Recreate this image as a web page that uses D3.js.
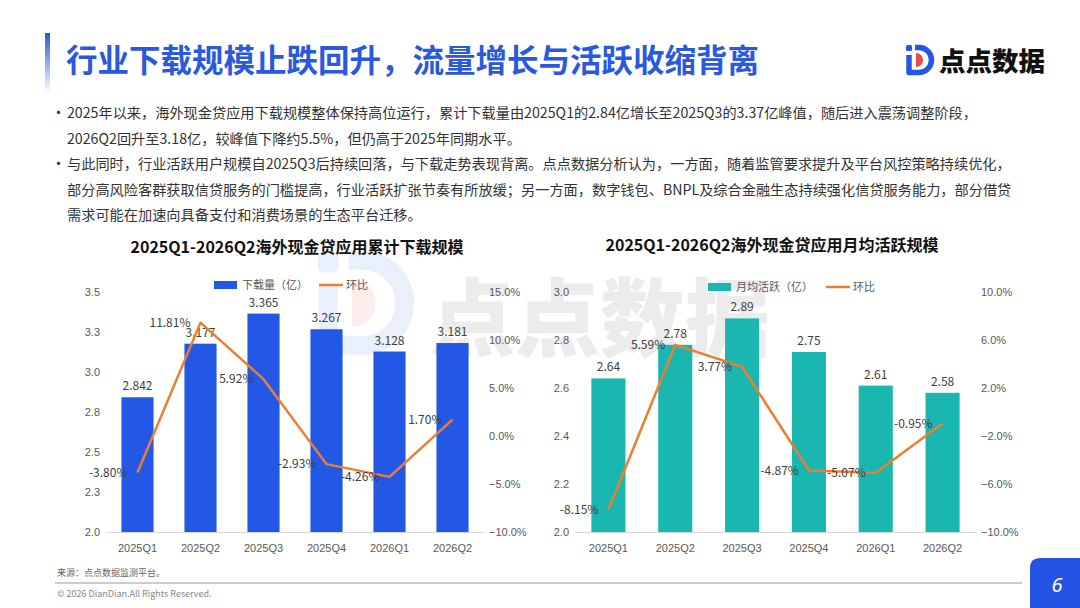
<!DOCTYPE html>
<html>
<head>
<meta charset="utf-8">
<script src="https://cdn.jsdelivr.net/npm/d3@7"></script>
<style>
  body { margin: 0; background: #fff; }
  svg { display: block; font-family: "Noto Sans CJK SC", "Noto Sans", sans-serif; }
</style>
</head>
<body>
<svg id="slide" width="1080" height="608"></svg>
<script>
// Data
const quarters = ['2025Q1', '2025Q2', '2025Q3', '2025Q4', '2026Q1', '2026Q2'];
const downloads = [2.842, 3.177, 3.365, 3.267, 3.128, 3.181];
const downloadQoQ = [-3.80, 11.81, 5.92, -2.93, -4.26, 1.70];
const actives = [2.64, 2.78, 2.89, 2.75, 2.61, 2.58];
const activeQoQ = [-8.15, 5.59, 3.77, -4.87, -5.07, -0.95];
const downloadTicks = [2.0, 2.25, 2.5, 2.75, 3.0, 3.25, 3.5];
const downloadPctTicks = [-10, -5, 0, 5, 10, 15];
const activeTicks = [2.0, 2.2, 2.4, 2.6, 2.8, 3.0];
const activePctTicks = [-10, -6, -2, 2, 6, 10];

const bullets = [
  ['2025年以来，海外现金贷应用下载规模整体保持高位运行，累计下载量由2025Q1的2.84亿增长至2025Q3的3.37亿峰值，随后进入震荡调整阶段，',
   '2026Q2回升至3.18亿，较峰值下降约5.5%，但仍高于2025年同期水平。'],
  ['与此同时，行业活跃用户规模自2025Q3后持续回落，与下载走势表现背离。点点数据分析认为，一方面，随着监管要求提升及平台风控策略持续优化，',
   '部分高风险客群获取信贷服务的门槛提高，行业活跃扩张节奏有所放缓；另一方面，数字钱包、BNPL及综合金融生态持续强化信贷服务能力，部分借贷',
   '需求可能在加速向具备支付和消费场景的生态平台迁移。']
];

const blue = '#2557E4';
const orange = '#ED7D31';
const svg = d3.select('#slide');

// Header
const grad = svg.append('defs').append('linearGradient')
  .attr('id', 'barGrad').attr('x1', 0).attr('y1', 0).attr('x2', 0).attr('y2', 1);
grad.append('stop').attr('offset', '0%').attr('stop-color', blue).attr('stop-opacity', 1);
grad.append('stop').attr('offset', '100%').attr('stop-color', blue).attr('stop-opacity', 0);
svg.append('rect').attr('x', 45).attr('y', 33).attr('width', 5).attr('height', 60)
  .attr('fill', 'url(#barGrad)');

svg.append('text')
  .attr('x', 66).attr('y', 72)
  .attr('font-size', 31.5).attr('font-weight', 700).attr('fill', '#2A59DF')
  .text('行业下载规模止跌回升，流量增长与活跃收缩背离');

// Logo
function drawIcon(g, s) {
  g.append('rect').attr('x', 0).attr('y', 0).attr('width', 6 * s).attr('height', 6 * s)
    .attr('rx', 1.5 * s).attr('fill', blue);
  g.append('path')
    .attr('d', `M${3 * s},${10 * s} V${27.5 * s} H${13 * s} A${12.5 * s},${12.5 * s} 0 0 0 ${13 * s},${2.5 * s} H${9 * s}`)
    .attr('fill', 'none').attr('stroke', blue).attr('stroke-width', 5.5 * s)
    .attr('stroke-linejoin', 'round');
  g.append('path')
    .attr('d', `M${10 * s},${8 * s} A${7 * s},${7 * s} 0 0 1 ${10 * s},${22 * s} Z`)
    .attr('fill', '#F04848');
}
drawIcon(svg.append('g').attr('transform', 'translate(906,45)'), 1);
svg.append('text').attr('x', 939).attr('y', 71)
  .attr('font-size', 26.5).attr('font-weight', 900).attr('fill', '#111')
  .text('点点数据');

// Bullets
let ly = 118;
bullets.forEach(lines => {
  svg.append('text').attr('x', 51).attr('y', ly).attr('font-size', 15).attr('fill', '#333').text('•');
  lines.forEach(line => {
    svg.append('text').attr('x', 67).attr('y', ly)
      .attr('font-size', 14.2).attr('fill', '#333').text(line);
    ly += 25.5;
  });
});

// Watermark (sits behind the charts)
const wm = svg.append('g').attr('opacity', 0.09);
drawIcon(wm.append('g').attr('transform', 'translate(318,252)'), 3.4);
svg.append('text').attr('x', 430).attr('y', 350)
  .attr('font-size', 85).attr('font-weight', 900).attr('fill', '#888').attr('opacity', 0.15)
  .text('点点数据');

// Chart drawing
function drawChart(cfg) {
  const g = svg.append('g');
  const x = d3.scaleBand().domain(quarters).range(cfg.xRange).paddingInner(0.49).paddingOuter(0.245);
  const y = d3.scaleLinear().domain(d3.extent(cfg.ticks)).range([532, 292]);
  const y2 = d3.scaleLinear().domain(d3.extent(cfg.pctTicks)).range([532, 292]);

  g.append('text').attr('x', cfg.titleX).attr('y', cfg.titleY)
    .attr('text-anchor', 'middle').attr('font-size', 16).attr('font-weight', 700).attr('fill', '#111')
    .text(cfg.title);

  // legend
  const lg = g.append('g').attr('transform', `translate(${cfg.legendX},${cfg.legendY})`);
  lg.append('rect').attr('x', 0).attr('y', -4).attr('width', 23).attr('height', 8).attr('fill', cfg.color);
  lg.append('text').attr('x', 28).attr('y', 4).attr('font-size', 11).attr('fill', '#595959').text(cfg.seriesName);
  lg.append('line').attr('x1', cfg.legendGap).attr('x2', cfg.legendGap + 24).attr('y1', 0).attr('y2', 0)
    .attr('stroke', orange).attr('stroke-width', 2.5);
  lg.append('text').attr('x', cfg.legendGap + 27).attr('y', 4).attr('font-size', 11).attr('fill', '#595959').text('环比');

  // axes
  const fmt = d3.format('.1f');
  g.append('g').attr('transform', `translate(${cfg.xRange[0] - 6},0)`)
    .call(d3.axisLeft(y).tickValues(cfg.ticks).tickSize(0).tickPadding(0).tickFormat(fmt))
    .call(a => a.select('.domain').remove())
    .call(a => a.selectAll('text').attr('fill', '#595959').attr('font-size', 11).attr('font-family', null));

  g.append('g').attr('transform', `translate(${cfg.xRange[1] + 5},0)`)
    .call(d3.axisRight(y2).tickValues(cfg.pctTicks).tickSize(0).tickPadding(0).tickFormat(d => fmt(d) + '%'))
    .call(a => a.select('.domain').remove())
    .call(a => a.selectAll('text').attr('fill', '#595959').attr('font-size', 11).attr('font-family', null));

  g.append('g').attr('transform', 'translate(0,532)')
    .call(d3.axisBottom(x).tickSize(0).tickPadding(12))
    .call(a => a.select('.domain').attr('stroke', '#d9d9d9'))
    .call(a => a.selectAll('text').attr('fill', '#595959').attr('font-size', 11).attr('font-family', null));

  // bars
  g.selectAll('.bar').data(cfg.bars).join('rect')
    .attr('x', (d, i) => x(quarters[i]))
    .attr('y', d => y(d))
    .attr('width', x.bandwidth())
    .attr('height', d => y(y.domain()[0]) - y(d))
    .attr('fill', cfg.color);

  g.selectAll('.barLabel').data(cfg.bars).join('text')
    .attr('x', (d, i) => x(quarters[i]) + x.bandwidth() / 2)
    .attr('y', d => y(d) - 7)
    .attr('text-anchor', 'middle').attr('font-size', 12).attr('fill', '#404040')
    .text(d => cfg.barFmt(d));

  // QoQ line
  const line = d3.line().x((d, i) => x(quarters[i]) + x.bandwidth() / 2).y(d => y2(d));
  g.append('path').datum(cfg.pct).attr('d', line)
    .attr('fill', 'none').attr('stroke', orange).attr('stroke-width', 2.5).attr('stroke-linejoin', 'round');

  g.selectAll('.pctLabel').data(cfg.pct).join('text')
    .attr('x', (d, i) => x(quarters[i]) + x.bandwidth() / 2 - 10)
    .attr('y', d => y2(d))
    .attr('dy', '0.35em')
    .attr('text-anchor', 'end').attr('font-size', 12).attr('fill', '#404040')
    .text(d => d.toFixed(2) + '%');
}

drawChart({
  title: '2025Q1-2026Q2海外现金贷应用累计下载规模', titleX: 297, titleY: 253,
  xRange: [106, 484], ticks: downloadTicks, pctTicks: downloadPctTicks,
  bars: downloads, pct: downloadQoQ, color: '#2358E6', barFmt: d3.format('.3f'),
  seriesName: '下载量（亿）', legendX: 214, legendY: 285, legendGap: 105
});

drawChart({
  title: '2025Q1-2026Q2海外现金贷应用月均活跃规模', titleX: 772, titleY: 251,
  xRange: [575, 976], ticks: activeTicks, pctTicks: activePctTicks,
  bars: actives, pct: activeQoQ, color: '#19B7B0', barFmt: d3.format('.2f'),
  seriesName: '月均活跃（亿）', legendX: 708, legendY: 287, legendGap: 118
});

// Footer
svg.append('text').attr('x', 57).attr('y', 576).attr('font-size', 9).attr('fill', '#666').text('来源：点点数据监测平台。');
svg.append('line').attr('x1', 55).attr('x2', 1022).attr('y1', 583).attr('y2', 583).attr('stroke', '#999').attr('stroke-width', 1);
svg.append('text').attr('x', 57).attr('y', 597).attr('font-size', 9).attr('fill', '#888').text('© 2026 DianDian.All Rights Reserved.');
svg.append('path').attr('d', 'M1030,608 V568 Q1030,558 1040,558 H1080 V608 Z').attr('fill', '#2454E6');
svg.append('text').attr('x', 1057).attr('y', 592).attr('text-anchor', 'middle')
  .attr('font-size', 20).attr('font-style', 'italic').attr('fill', '#fff').attr('font-family', 'Noto Sans, sans-serif')
  .text('6');
</script>
</body>
</html>
